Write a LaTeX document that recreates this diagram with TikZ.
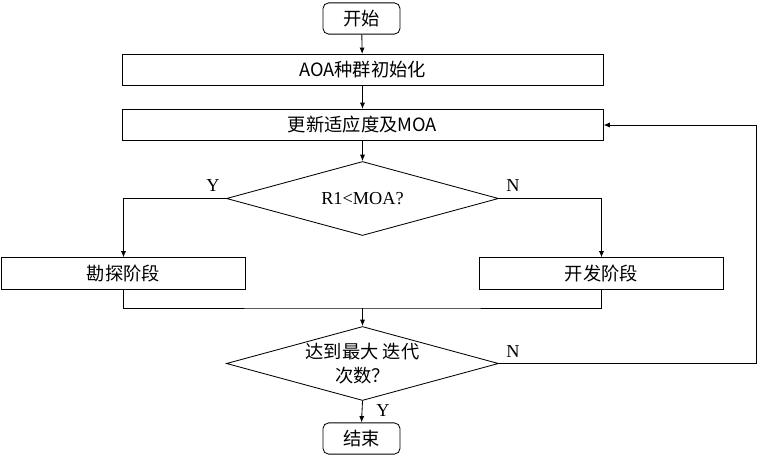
\documentclass[tikz,border=0pt]{standalone}
\usepackage{fontspec}
\setmainfont{Liberation Serif}
\newfontfamily\cjk{Noto Sans CJK SC}
\usepackage{tikz}
\usetikzlibrary{arrows.meta,positioning,shapes.geometric,calc}

\begin{document}
\begin{tikzpicture}[x=0.025cm,y=-0.025cm,font=\fontsize{13}{18}\selectfont,line width=0.6pt,>={Latex[length=4.5pt,width=3.6pt]}]
        \tikzstyle{term}=[draw,rounded corners=4pt,minimum width=1.925cm,minimum height=0.78cm,align=center,font=\fontsize{13}{18}\selectfont\cjk]
        \tikzstyle{proc}=[draw,minimum width=12.025cm,minimum height=0.78cm,align=center,font=\fontsize{13}{18}\selectfont\cjk]
        \tikzstyle{phase}=[draw,minimum width=6.1cm,minimum height=0.78cm,align=center,font=\fontsize{13}{18}\selectfont\cjk]
        \tikzstyle{dec}=[draw,diamond,aspect=3.7,inner sep=0pt,minimum width=6.8cm,minimum height=1.85cm,align=center]
        \useasboundingbox (0,0) rectangle (758,460);
        \node[term] (st) at (361.5,18.5) {开始};
        \node[proc] (init) at (362.5,70) {AOA种群初始化};
        \node[proc] (upd) at (362.5,125) {更新适应度及MOA};
        \node[dec] (d1) at (362.5,198.5) {R1<MOA?};
        \node[phase] (exp) at (123.5,273.5) {勘探阶段};
        \node[phase] (dev) at (601.5,273.5) {开发阶段};
        \node[dec,font=\fontsize{13}{17}\selectfont\cjk] (d2) at (362.5,363.5) {达到最大 迭代\\次数？};
        \node[term] (end) at (361.5,438.5) {结束};
        % merge and loop back
        \coordinate (mrg) at (362.5,308);
        \coordinate (rt)  at (756,363.5);
        \draw[->] (st) -- (init);
        \draw[->] (init) -- (upd);
        \draw[->] (upd) -- (d1);
        \draw[->] (d1.west) -| (exp.north);
        \draw[->] (d1.east) -| (dev.north);
        \draw (exp.south) |- (mrg) -| (dev.south);
        \draw[->] (mrg) -- (d2.north);
        \draw[->] (d2.east) -- (rt) |- (upd.east);
        \draw[->] (d2.south) -- (end.north);
        % branch labels
        \node (y1) at (213,186) {Y};
        \node (n1) at (513,186) {N};
        \node (n2) at (513,352) {N};
        \node (y2) at (383,411) {Y};
      \end{tikzpicture}
\end{document}
